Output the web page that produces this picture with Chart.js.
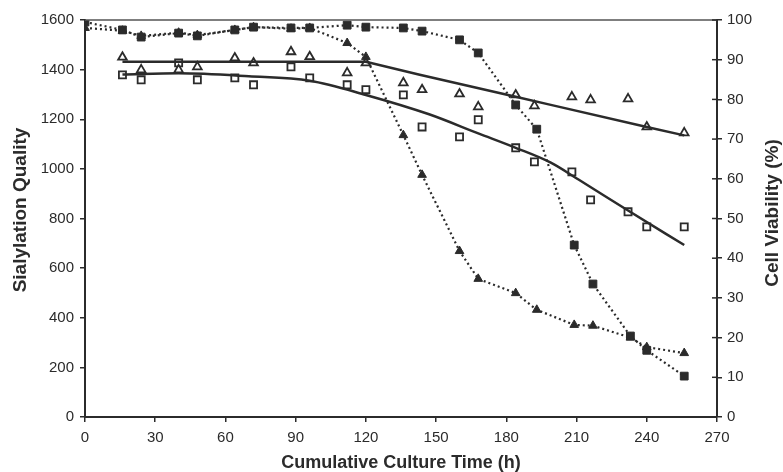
<!DOCTYPE html>
<html>
<head>
<meta charset="utf-8">
<script src="https://cdn.jsdelivr.net/npm/chart.js@4.4.1/dist/chart.umd.min.js"></script>
<style>
  html, body { margin: 0; padding: 0; background: #fff; }
  #wrap { width: 783px; height: 472px; }
</style>
</head>
<body>
<div id="wrap"><canvas id="chart" width="783" height="472"></canvas></div>
<script>
// sialylation quality samples (left axis)
const sampleTime = [16, 24, 40, 48, 64, 72, 88, 96, 112, 120, 136, 144, 160, 168, 184, 192, 208, 216, 232, 240, 256];
const qualityTri = [1450, 1399, 1399, 1411, 1447, 1427, 1472, 1452, 1387, 1427, 1347, 1319, 1302, 1250, 1298, 1254, 1290, 1278, 1282, 1169, 1145];
const qualitySq  = [1379, 1359, 1427, 1359, 1367, 1339, 1411, 1367, 1339, 1319, 1298, 1169, 1129, 1198, 1085, 1028, 988, 875, 827, 766, 766];

// trend lines through the quality samples
const fitTriTime = [16, 120, 143, 184, 199, 240, 256];
const fitTriQuality = [1432, 1432, 1379, 1291, 1258, 1169, 1135];
const fitSqTime = [16, 40, 70, 96, 120, 147, 168, 184, 199, 211, 232, 256];
const fitSqQuality = [1380, 1385, 1373, 1355, 1298, 1220, 1143, 1085, 1025, 956, 832, 693];

// cell viability (right axis)
const viabTime = [0, 16, 24, 40, 48, 64, 72, 88, 96, 112, 120, 136, 144, 160, 168, 184, 193, 209, 217, 233, 240, 256];
const viabTri = [98, 97.3, 96, 96.8, 96.2, 97.5, 98.2, 97.8, 98, 94.2, 90.7, 71, 61, 41.8, 34.8, 31.2, 27, 23.2, 23, 20, 17.6, 16.1];
const viabSq  = [99.5, 97.5, 95.7, 96.7, 96, 97.5, 98.2, 98, 98, 98.7, 98.2, 98, 97.2, 95, 91.7, 78.6, 72.5, 43.3, 33.5, 20.4, 16.8, 10.3];

const ink = '#2b2b2b';
const fontFamily = "'Liberation Sans', Arial, sans-serif";
const tickFont = { family: fontFamily, size: 15 };
const titleFont = { family: fontFamily, size: 18, weight: 'bold', lineHeight: 1 };

function pts(xs, ys) {
    return xs.map((x, i) => ({ x: x, y: ys[i] }));
}

function drawVertical(ctx, text, x, y) {
    ctx.save();
    ctx.translate(x, y);
    ctx.rotate(-Math.PI / 2);
    ctx.fillStyle = ink;
    ctx.font = 'bold 19px ' + fontFamily;
    ctx.textAlign = 'center';
    ctx.textBaseline = 'middle';
    ctx.fillText(text, 0, 0);
    ctx.restore();
}

// frame top line, inner ticks on the right axis, both y titles (bottom-to-top)
const extras = {
    id: 'extras',
    afterDraw(chart) {
        const ctx = chart.ctx;
        const area = chart.chartArea;
        const y2 = chart.scales.y2;
        ctx.save();
        ctx.strokeStyle = '#555';
        ctx.lineWidth = 1.5;
        ctx.beginPath();
        ctx.moveTo(area.left, area.top);
        ctx.lineTo(area.right, area.top);
        ctx.stroke();

        ctx.strokeStyle = ink;
        y2.ticks.forEach(t => {
            const py = y2.getPixelForValue(t.value);
            ctx.beginPath();
            ctx.moveTo(area.right - 5, py);
            ctx.lineTo(area.right, py);
            ctx.stroke();
        });
        ctx.restore();

        drawVertical(ctx, 'Sialylation Quality', 21, 210);
        drawVertical(ctx, 'Cell Viability (%)', 773, 213);
    }
};

const axisGrid = { drawOnChartArea: false, drawTicks: true, tickLength: 5, color: ink, lineWidth: 1.5 };
const axisBorder = { display: true, color: ink, width: 2 };
const plainNumber = v => String(v);

new Chart(document.getElementById('chart'), {
    type: 'scatter',
    data: {
        datasets: [
            {
                label: 'viability sq',
                data: pts(viabTime, viabSq),
                yAxisID: 'y2',
                showLine: true,
                borderColor: ink,
                borderWidth: 2.2,
                borderDash: [2, 3],
                pointStyle: 'rect',
                pointRadius: 5.5,
                pointBackgroundColor: ink,
                pointBorderColor: ink,
                pointBorderWidth: 1
            },
            {
                label: 'viability tri',
                data: pts(viabTime, viabTri),
                yAxisID: 'y2',
                showLine: true,
                borderColor: ink,
                borderWidth: 2.2,
                borderDash: [2, 3],
                pointStyle: 'triangle',
                pointRadius: 5,
                pointBackgroundColor: ink,
                pointBorderColor: ink,
                pointBorderWidth: 1
            },
            {
                label: 'fit tri',
                data: pts(fitTriTime, fitTriQuality),
                yAxisID: 'y',
                showLine: true,
                borderColor: ink,
                borderWidth: 2.5,
                pointRadius: 0
            },
            {
                label: 'fit sq',
                data: pts(fitSqTime, fitSqQuality),
                yAxisID: 'y',
                showLine: true,
                borderColor: ink,
                borderWidth: 2.5,
                cubicInterpolationMode: 'monotone',
                pointRadius: 0
            },
            {
                label: 'quality tri',
                data: pts(sampleTime, qualityTri),
                yAxisID: 'y',
                pointStyle: 'triangle',
                pointRadius: 5,
                pointBackgroundColor: '#fff',
                pointBorderColor: ink,
                pointBorderWidth: 1.8
            },
            {
                label: 'quality sq',
                data: pts(sampleTime, qualitySq),
                yAxisID: 'y',
                pointStyle: 'rect',
                pointRadius: 5,
                pointBackgroundColor: '#fff',
                pointBorderColor: ink,
                pointBorderWidth: 1.8
            }
        ]
    },
    options: {
        responsive: false,
        animation: false,
        devicePixelRatio: 1,
        layout: { padding: { top: 20, left: 0, right: 0, bottom: 0 } },
        plugins: {
            legend: { display: false },
            tooltip: { enabled: false }
        },
        scales: {
            x: {
                type: 'linear',
                position: 'bottom',
                min: 0,
                max: 270,
                ticks: { stepSize: 30, color: ink, font: tickFont, padding: 7, maxRotation: 0, callback: plainNumber },
                grid: axisGrid,
                border: axisBorder,
                title: { display: true, text: 'Cumulative Culture Time (h)', color: ink, font: titleFont, padding: { top: 0, bottom: 0 } },
                afterFit(scale) { scale.height = 55; }
            },
            y: {
                position: 'left',
                min: 0,
                max: 1600,
                ticks: { stepSize: 200, color: ink, font: tickFont, padding: 6, callback: plainNumber },
                grid: axisGrid,
                border: axisBorder,
                afterFit(scale) { scale.width = 85; }
            },
            y2: {
                position: 'right',
                min: 0,
                max: 100,
                ticks: { stepSize: 10, color: ink, font: tickFont, padding: 5, callback: plainNumber },
                grid: axisGrid,
                border: axisBorder,
                afterFit(scale) { scale.width = 66; }
            }
        }
    },
    plugins: [extras]
});
</script>
</body>
</html>
